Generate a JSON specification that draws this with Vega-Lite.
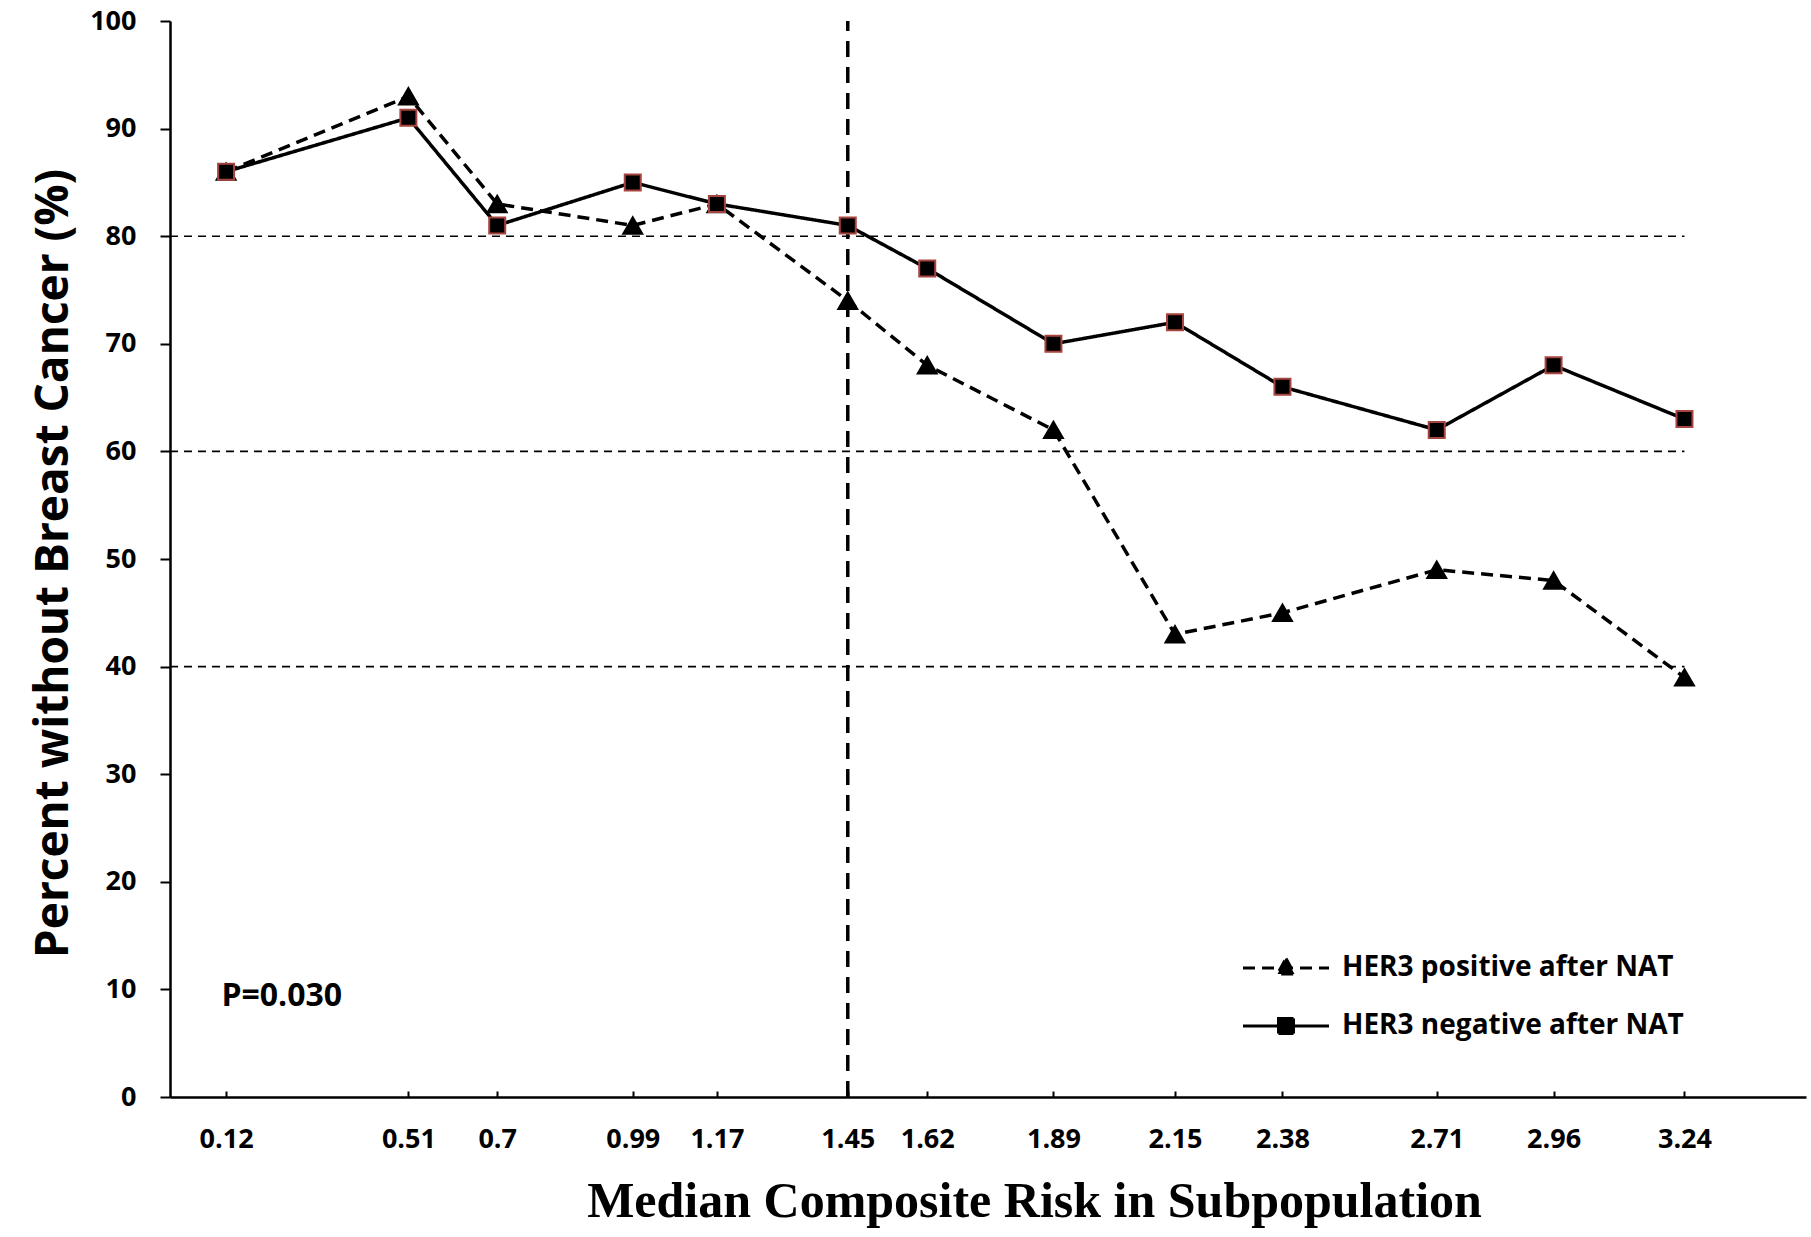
{
  "$schema": "https://vega.github.io/schema/vega-lite/v6.json",
  "width": 1636,
  "height": 1076,
  "autosize": {"type": "none"},
  "padding": {"left": 170, "top": 21, "right": 5, "bottom": 140},
  "background": "white",
  "config": {"view": {"stroke": null}, "font": "Open Sans"},
  "datasets": {
    "series": [
      {"x": 0.12, "y": 86, "series": "HER3 positive after NAT"},
      {"x": 0.51, "y": 93, "series": "HER3 positive after NAT"},
      {"x": 0.7, "y": 83, "series": "HER3 positive after NAT"},
      {"x": 0.99, "y": 81, "series": "HER3 positive after NAT"},
      {"x": 1.17, "y": 83, "series": "HER3 positive after NAT"},
      {"x": 1.45, "y": 74, "series": "HER3 positive after NAT"},
      {"x": 1.62, "y": 68, "series": "HER3 positive after NAT"},
      {"x": 1.89, "y": 62, "series": "HER3 positive after NAT"},
      {"x": 2.15, "y": 43, "series": "HER3 positive after NAT"},
      {"x": 2.38, "y": 45, "series": "HER3 positive after NAT"},
      {"x": 2.71, "y": 49, "series": "HER3 positive after NAT"},
      {"x": 2.96, "y": 48, "series": "HER3 positive after NAT"},
      {"x": 3.24, "y": 39, "series": "HER3 positive after NAT"},
      {"x": 0.12, "y": 86, "series": "HER3 negative after NAT"},
      {"x": 0.51, "y": 91, "series": "HER3 negative after NAT"},
      {"x": 0.7, "y": 81, "series": "HER3 negative after NAT"},
      {"x": 0.99, "y": 85, "series": "HER3 negative after NAT"},
      {"x": 1.17, "y": 83, "series": "HER3 negative after NAT"},
      {"x": 1.45, "y": 81, "series": "HER3 negative after NAT"},
      {"x": 1.62, "y": 77, "series": "HER3 negative after NAT"},
      {"x": 1.89, "y": 70, "series": "HER3 negative after NAT"},
      {"x": 2.15, "y": 72, "series": "HER3 negative after NAT"},
      {"x": 2.38, "y": 66, "series": "HER3 negative after NAT"},
      {"x": 2.71, "y": 62, "series": "HER3 negative after NAT"},
      {"x": 2.96, "y": 68, "series": "HER3 negative after NAT"},
      {"x": 3.24, "y": 63, "series": "HER3 negative after NAT"}
    ],
    "grid": [{"y": 40}, {"y": 60}, {"y": 80}],
    "vline": [{"x": 1.45}],
    "note": [{"x": 0.11, "y": 9.4, "label": "P=0.030"}]
  },
  "layer": [
    {
      "data": {"name": "series"},
      "mark": {"type": "line", "color": "black", "strokeWidth": 3.5},
      "encoding": {
        "x": {
          "field": "x", "type": "quantitative",
          "scale": {"domain": [0, 3.5], "nice": false, "zero": false},
          "axis": {
            "values": [0.12, 0.51, 0.7, 0.99, 1.17, 1.45, 1.62, 1.89, 2.15, 2.38, 2.71, 2.96, 3.24],
            "labelExpr": "'' + datum.value",
            "grid": false,
            "domainColor": "black", "domainWidth": 2.5,
            "tickColor": "black", "tickWidth": 2, "tickSize": -6,
            "labelFont": "Open Sans", "labelFontWeight": "bold", "labelFontSize": 27,
            "labelColor": "black", "labelPadding": 35, "labelBaseline": "top",
            "title": "Median Composite Risk in Subpopulation",
            "titleFont": "Liberation Serif", "titleFontWeight": "bold", "titleFontSize": 50,
            "titleColor": "black", "titleX": 864, "titleY": 104, "titleBaseline": "middle", "titleAlign": "center"
          }
        },
        "y": {
          "field": "y", "type": "quantitative",
          "scale": {"domain": [0, 100], "nice": false},
          "axis": {
            "values": [0, 10, 20, 30, 40, 50, 60, 70, 80, 90, 100],
            "format": "d",
            "grid": false,
            "domainColor": "black", "domainWidth": 2.5,
            "tickColor": "black", "tickWidth": 2, "tickSize": 10,
            "labelFont": "Open Sans", "labelFontWeight": "bold", "labelFontSize": 27,
            "labelColor": "black", "labelPadding": 24,
            "title": "Percent without Breast Cancer (%)",
            "titleFont": "Open Sans", "titleFontWeight": "bold", "titleFontSize": 46,
            "titleColor": "black", "titleX": -117, "titleY": 542, "titleAngle": -90,
            "titleBaseline": "middle", "titleAlign": "center"
          }
        },
        "strokeDash": {
          "field": "series", "type": "nominal",
          "scale": {"domain": ["HER3 positive after NAT", "HER3 negative after NAT"], "range": [[12, 7], [1, 0]]},
          "legend": {
            "title": null,
            "orient": "none",
            "legendX": 1102,
            "legendY": 933,
            "symbolSize": 400,
            "symbolStrokeWidth": 3,
            "symbolStrokeColor": "black",
            "symbolFillColor": "black",
            "labelFont": "Open Sans",
            "labelFontWeight": "bold",
            "labelFontSize": 28,
            "labelColor": "black",
            "labelOffset": 42,
            "labelLimit": 0,
            "rowPadding": 30,
            "encode": {
              "symbols": {
                "update": {
                  "shape": {"signal": "datum.value === 'HER3 positive after NAT' ? 'M-4.3,0H4.3M0,-0.95L0.85,0.6H-0.85Z' : 'M-4.3,0H4.3M-0.75,-0.75H0.75V0.75H-0.75Z'"},
                  "fill": {"value": "black"},
                  "stroke": {"value": "black"},
                  "strokeWidth": {"value": 3}
                }
              }
            }
          }
        }
      }
    },
    {
      "data": {"name": "grid"},
      "mark": {"type": "rule", "color": "black", "strokeWidth": 1.6, "strokeDash": [8, 6]},
      "encoding": {
        "y": {"field": "y", "type": "quantitative"},
        "x": {"datum": 0},
        "x2": {"datum": 3.24}
      }
    },
    {
      "data": {"name": "vline"},
      "mark": {"type": "rule", "color": "black", "strokeWidth": 3.5, "strokeDash": [16, 10]},
      "encoding": {
        "x": {"field": "x", "type": "quantitative"},
        "y": {"datum": 0},
        "y2": {"datum": 100}
      }
    },
    {
      "data": {"name": "series"},
      "mark": {"type": "point", "filled": false, "fill": "black", "fillOpacity": 1, "opacity": 1, "strokeWidth": 2},
      "encoding": {
        "x": {"field": "x", "type": "quantitative"},
        "y": {"field": "y", "type": "quantitative"},
        "shape": {"condition": {"test": "datum.series === 'HER3 positive after NAT'", "value": "triangle-up"}, "value": "square"},
        "stroke": {"condition": {"test": "datum.series === 'HER3 positive after NAT'", "value": "black"}, "value": "#a8443f"},
        "size": {"condition": {"test": "datum.series === 'HER3 positive after NAT'", "value": 360}, "value": 256}
      }
    },
    {
      "data": {"name": "note"},
      "mark": {"type": "text", "align": "left", "baseline": "middle", "font": "Open Sans", "fontWeight": "bold", "fontSize": 32, "color": "black"},
      "encoding": {
        "x": {"field": "x", "type": "quantitative"},
        "y": {"field": "y", "type": "quantitative"},
        "text": {"field": "label"}
      }
    }
  ]
}
